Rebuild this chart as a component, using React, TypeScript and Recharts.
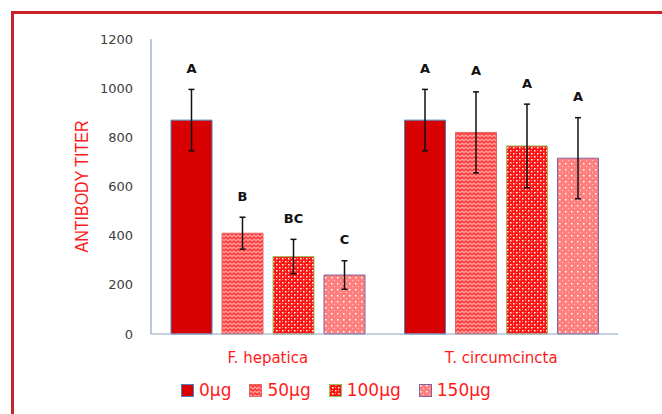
import React from 'react';
import {
  BarChart,
  Bar,
  XAxis,
  YAxis,
  ErrorBar,
  LabelList,
  Label,
  Legend,
} from 'recharts';

const categories = ['F. hepatica', 'T. circumcincta'];

const dose0 = [870, 870];
const dose50 = [410, 820];
const dose100 = [315, 765];
const dose150 = [240, 715];

const err0 = [125, 125];
const err50 = [65, 165];
const err100 = [70, 170];
const err150 = [58, 165];

const letters0 = ['A', 'A'];
const letters50 = ['B', 'A'];
const letters100 = ['BC', 'A'];
const letters150 = ['C', 'A'];

const yTicks = [0, 200, 400, 600, 800, 1000, 1200];

const rows = categories.map((name, i) => ({
  name,
  v0: dose0[i],
  v50: dose50[i],
  v100: dose100[i],
  v150: dose150[i],
  e0: err0[i],
  e50: err50[i],
  e100: err100[i],
  e150: err150[i],
  l0: letters0[i],
  l50: letters50[i],
  l100: letters100[i],
  l150: letters150[i],
}));

const SERIES = [
  { key: 'v0', err: 'e0', letters: 'l0', label: '0μg', fill: 'url(#pat0)', border: '#4f81bd' },
  { key: 'v50', err: 'e50', letters: 'l50', label: '50μg', fill: 'url(#pat50)', border: '#e06666' },
  { key: 'v100', err: 'e100', letters: 'l100', label: '100μg', fill: 'url(#pat100)', border: '#9bbb59' },
  { key: 'v150', err: 'e150', letters: 'l150', label: '150μg', fill: 'url(#pat150)', border: '#8064a2' },
] as const;

const AXIS_COLOR = '#8ea3c2';
const FONT = '"DejaVu Sans", Verdana, sans-serif';

const letterLabel = (valKey: string, errKey: string) => (props: any) => {
  const { x, y, width, height, index, value } = props;
  const row: any = rows[index];
  if (!row || !row[valKey]) return null;
  const errPx = (row[errKey] * height) / row[valKey];
  return (
    <text
      x={x + width / 2}
      y={y - errPx - 21}
      textAnchor="middle"
      dominantBaseline="central"
      fontFamily={FONT}
      fontWeight="bold"
      fontSize={13}
      fill="#111"
    >
      {value}
    </text>
  );
};

const LegendContent = () => (
  <div style={{ display: 'flex', alignItems: 'center', gap: 18, fontFamily: FONT, fontSize: 17, color: '#ff1a1a' }}>
    {SERIES.map((s) => (
      <div key={s.key} style={{ display: 'flex', alignItems: 'center', gap: 5 }}>
        <svg width={13} height={13} style={{ display: 'block' }}>
          <rect x={0.5} y={0.5} width={12} height={12} fill={s.fill} stroke={s.border} strokeWidth={1} />
        </svg>
        <span style={{ lineHeight: '20px' }}>{s.label}</span>
      </div>
    ))}
  </div>
);

const YTitle = () => (
  <text
    x={82}
    y={186.5}
    transform="rotate(-90 82 186.5)"
    textAnchor="middle"
    dominantBaseline="central"
    fontFamily='"Liberation Sans Narrow", "Liberation Sans", Arial, sans-serif'
    fontSize={18}
    fill="#ff1a1a"
    textLength={132}
    lengthAdjust="spacingAndGlyphs"
  >
    ANTIBODY TITER
  </text>
);

export default function App() {
  return (
    <div style={{ position: 'absolute', left: 0, top: 0, width: 662, height: 414, overflow: 'hidden', background: '#fff' }}>
      <div
        style={{
          position: 'absolute',
          left: 11,
          top: 11,
          width: 700,
          height: 500,
          border: '3px solid #cc2229',
        }}
      />
      <div style={{ position: 'absolute', left: 0, top: 0 }}>
        <BarChart
          width={662}
          height={414}
          data={rows}
          margin={{ top: 39, right: 44, bottom: 50, left: 91 }}
          barCategoryGap={20}
          barGap={10}
        >
          <defs>
            <pattern id="pat0" width={4} height={4} patternUnits="userSpaceOnUse">
              <rect width={4} height={4} fill="#d80000" />
              <rect x={1} y={1} width={1} height={1} fill="#cc0000" />
            </pattern>
            <pattern id="pat50" width={8} height={4} patternUnits="userSpaceOnUse">
              <rect width={8} height={4} fill="#ff9a9a" />
              <path d="M0 3 L2 1 L4 3 L6 1 L8 3" fill="none" stroke="#ff3030" strokeWidth={1.3} />
            </pattern>
            <pattern id="pat100" width={6} height={6} patternUnits="userSpaceOnUse">
              <rect width={6} height={6} fill="#ff1414" />
              <rect x={0} y={0} width={1.5} height={1.5} fill="#ffffff" />
              <rect x={3} y={3} width={1.5} height={1.5} fill="#ffffff" />
              <rect x={3} y={0} width={1} height={1} fill="#ff9a9a" />
              <rect x={0} y={3} width={1} height={1} fill="#ff9a9a" />
            </pattern>
            <pattern id="pat150" width={6} height={6} patternUnits="userSpaceOnUse">
              <rect width={6} height={6} fill="#ff7f7f" />
              <rect x={1} y={1} width={1.5} height={1.5} fill="#ffffff" />
              <rect x={4} y={4} width={1} height={1} fill="#ffd6d6" />
            </pattern>
          </defs>
          <XAxis
            dataKey="name"
            axisLine={{ stroke: AXIS_COLOR, strokeWidth: 1.2 }}
            tickLine={false}
            tickSize={6}
            tickMargin={12}
            height={30}
            tick={{ fill: '#ff1a1a', fontSize: 15, fontFamily: FONT }}
          />
          <XAxis xAxisId="top" orientation="top" height={0} axisLine={{ stroke: '#eef2f8' }} tick={false} tickLine={false} />
          <YAxis
            domain={[0, 1200]}
            ticks={yTicks}
            width={60}
            axisLine={{ stroke: AXIS_COLOR, strokeWidth: 1.2 }}
            tickLine={false}
            tickSize={6}
            tickMargin={12}
            tick={{ fill: '#404040', fontSize: 13, fontFamily: FONT }}
          >
            <Label content={<YTitle />} />
          </YAxis>
          <YAxis
            yAxisId="right"
            orientation="right"
            width={0}
            domain={[0, 1200]}
            axisLine={{ stroke: '#eef2f8' }}
            tick={false}
            tickLine={false}
          />
          <Legend
            layout="horizontal"
            verticalAlign="middle"
            align="center"
            wrapperStyle={{ top: 380, left: 181, width: 400, height: 20 }}
            content={<LegendContent />}
          />
          {SERIES.map((s) => (
            <Bar
              key={s.key}
              dataKey={s.key}
              name={s.label}
              fill={s.fill}
              stroke={s.border}
              strokeWidth={1}
              isAnimationActive={false}
            >
              <ErrorBar dataKey={s.err} width={3} strokeWidth={1.5} stroke="#111" isAnimationActive={false} />
              <LabelList dataKey={s.letters} content={letterLabel(s.key, s.err)} />
            </Bar>
          ))}
        </BarChart>
      </div>
    </div>
  );
}
